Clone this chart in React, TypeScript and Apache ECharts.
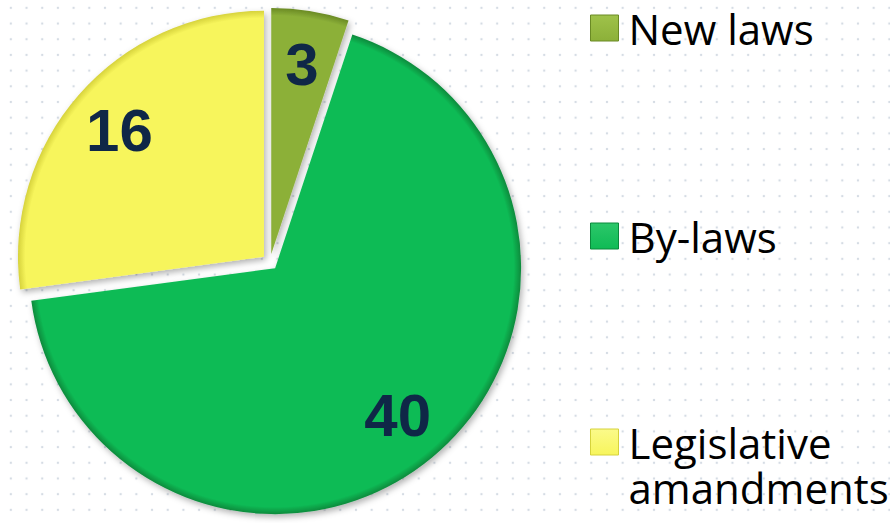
import React, { useEffect, useRef } from "react";
import * as echarts from "echarts";

const categories = ["New laws", "By-laws", "Legislative amandments"];
const values = [3, 40, 16];
const legendLabels = ["New laws", "By-laws", "\nLegislative\namandments"];

const baseColors = ["#8cb039", "#0fbb55", "#f7f55c"];
const rimColors = ["#6a8a24", "#0a8a3c", "#d6d23c"];
const lightColors = ["#9fc24a", "#2cc76a", "#fbfa8a"];

const CX = 270;
const CY = 262;
const R = 246;

export default function App() {
  const ref = useRef<HTMLDivElement>(null);

  useEffect(() => {
    if (!ref.current) return;
    const chart = echarts.init(ref.current, null, { renderer: "svg" });

    const mainData = categories.map((name, i) => ({
      name,
      value: values[i],
      selected: true,
      itemStyle: {
        color: {
          type: "radial",
          x: CX,
          y: CY,
          r: R,
          global: true,
          colorStops: [
            { offset: 0, color: baseColors[i] },
            { offset: 0.9, color: baseColors[i] },
            { offset: 0.97, color: baseColors[i] },
            { offset: 1, color: rimColors[i] },
          ],
        },
      },
    }));

    const labelData = categories.map((name, i) => ({
      name,
      value: values[i],
      selected: true,
    }));

    const legendTops = [7, 215, 374.5];

    const legends = categories.map((name, i) => ({
      orient: "vertical",
      left: 590,
      top: legendTops[i],
      padding: 0,
      itemWidth: 28,
      itemHeight: 26,
      icon: "rect",
      selectedMode: false,
      data: [
        {
          name,
          itemStyle: {
            color: {
              type: "linear",
              x: 0,
              y: 0,
              x2: 0,
              y2: 1,
              colorStops: [
                { offset: 0, color: lightColors[i] },
                { offset: 1, color: baseColors[i] },
              ],
            },
            borderColor: rimColors[i],
            borderWidth: 1,
          },
        },
      ],
      formatter: () => legendLabels[i],
      textStyle:
        i === 2
          ? {
              fontFamily: "Open Sans",
              fontSize: 42,
              color: "#000000",
              lineHeight: 45,
              padding: [0, 0, 0, 5],
            }
          : {
              fontFamily: "Open Sans",
              fontSize: 42,
              color: "#000000",
              lineHeight: 26,
              padding: [0, 0, 0, 5],
            },
    }));

    chart.setOption({
      animation: false,
      legend: legends,
      series: [
        {
          type: "pie",
          center: [CX, CY],
          radius: [0, R],
          startAngle: 90,
          clockwise: true,
          selectedMode: "multiple",
          selectedOffset: 8,
          label: { show: false },
          labelLine: { show: false },
          emphasis: { disabled: true },
          select: { itemStyle: {} },
          itemStyle: {
            shadowBlur: 6,
            shadowOffsetX: 2,
            shadowOffsetY: 3,
            shadowColor: "rgba(0,0,0,0.3)",
          },
          data: mainData,
        },
        {
          type: "pie",
          center: [CX, CY],
          radius: [132, R],
          startAngle: 90,
          clockwise: true,
          selectedMode: "multiple",
          selectedOffset: 8,
          silent: true,
          emphasis: { disabled: true },
          itemStyle: { color: "rgba(0,0,0,0)" },
          select: { itemStyle: { color: "rgba(0,0,0,0)" } },
          labelLine: { show: false },
          label: {
            show: true,
            position: "inside",
            formatter: "{c}",
            fontFamily: "Liberation Sans",
            fontWeight: "bold",
            fontSize: 60,
            color: "#0f2747",
          },
          data: labelData,
        },
      ],
    });

    return () => chart.dispose();
  }, []);

  return (
    <div
      ref={ref}
      style={{
        position: "fixed",
        left: 0,
        top: 0,
        width: 890,
        height: 523,
        backgroundColor: "#ffffff",
        backgroundImage:
          "radial-gradient(circle, #d5dce4 1px, rgba(255,255,255,0) 1.6px)",
        backgroundSize: "15.7px 15.7px",
        backgroundPosition: "3px 0px",
      }}
    />
  );
}
